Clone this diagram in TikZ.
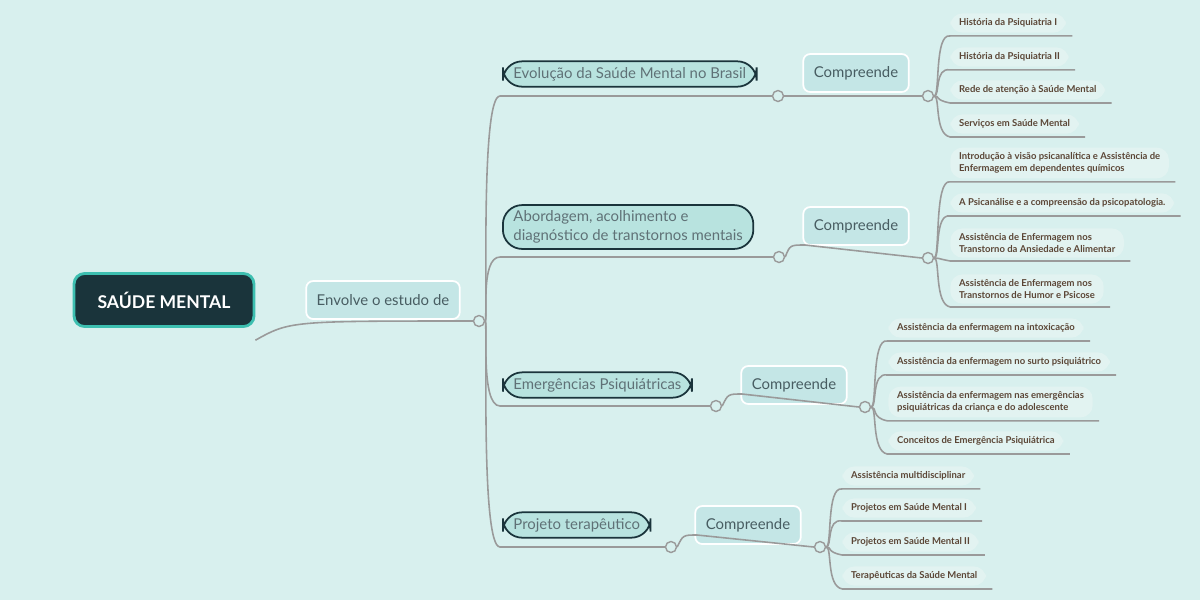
\documentclass[tikz,border=0pt]{standalone}
\usepackage{fontspec}
\setmainfont{Lato}
\usetikzlibrary{positioning,calc}
\definecolor{bgc}{HTML}{D8F0EE}
\definecolor{rootc}{HTML}{1A343B}
\definecolor{rimc}{HTML}{3DBFB0}
\definecolor{topicc}{HTML}{B8E3DF}
\definecolor{labc}{HTML}{C4E6E6}
\definecolor{leafc}{HTML}{E2F3F1}
\definecolor{leaftxt}{HTML}{5B4636}
\definecolor{linec}{HTML}{9A9A9A}
\begin{document}
\begin{tikzpicture}[x=0.02cm,y=-0.02cm]
\tikzset{rootbox/.style={draw=rimc, line width=1.6pt, fill=rootc, text=white, rounded corners=6pt, font=\bfseries\fontsize{10}{12}\selectfont, minimum width=3.6cm, minimum height=1.06cm},
labbox/.style={draw=white, line width=1pt, fill=labc, text=rootc!80, rounded corners=4pt, font=\fontsize{8.5}{10}\selectfont, minimum height=0.76cm, inner xsep=6pt},
topicbox/.style={draw=rootc, line width=1pt, fill=topicc, text=rootc!70, rounded corners=11pt, font=\fontsize{8.5}{10.5}\selectfont, align=left, inner xsep=6pt, anchor=west},
leafbox/.style={fill=leafc, text=leaftxt, rounded corners=7pt, font=\bfseries\fontsize{5.4}{6.6}\selectfont, align=left, inner xsep=5pt, inner ysep=3pt, anchor=west},
hubdot/.style={circle, draw=linec, fill=bgc, line width=0.8pt, inner sep=0pt, minimum size=0.22cm},
wire/.style={draw=linec, line width=0.9pt}}
\fill[bgc] (0,0) rectangle (1200,600);
% root and first label
\node[rootbox] (root) at (164,300) {SAÚDE MENTAL};
\node[labbox] (envolve) at (383,300) {Envolve o estudo de};
\node[hubdot] (hub) at (479,321) {};
\draw[wire] (root.south east) ++(0,-7pt) coordinate (rootout);
\draw[wire] (rootout) .. controls (290,321) .. (hub.west);
% topics
\node[topicbox] (evol) at (502,74) {Evolução da Saúde Mental no Brasil};
\node[topicbox] (abord) at (502,227) {Abordagem, acolhimento e\\diagnóstico de transtornos mentais};
\node[topicbox] (emerg) at (502,385) {Emergências Psiquiátricas};
\node[topicbox] (proj) at (502,525) {Projeto terapêutico};
\node[hubdot] (d1) at (778,96) {};
\node[hubdot] (d2) at (779,257) {};
\node[hubdot] (d3) at (716,406) {};
\node[hubdot] (d4) at (671,547) {};
\foreach \t/\d/\yy in {evol/d1/96, abord/d2/257, emerg/d3/406, proj/d4/547}{
  \draw[wire] (hub.east) .. controls (488,321) and (480,\yy) .. (500,\yy) -- (\d.west);
}
% compreende labels
\node[labbox] (c1) at (856,73) {Compreende};
\node[labbox] (c2) at (856,226) {Compreende};
\node[labbox] (c3) at (794,385) {Compreende};
\node[labbox] (c4) at (748,525) {Compreende};
\node[hubdot] (e1) at (928,96) {};
\node[hubdot] (e2) at (928,258) {};
\node[hubdot] (e3) at (865,407) {};
\node[hubdot] (e4) at (820,547) {};
\draw[wire] (d1.east) .. controls (790,96) .. (805,96) -- (e1.west);
\draw[wire] (d2.east) .. controls (790,245) .. (805,245) -- (e2.west);
\draw[wire] (d3.east) .. controls (728,394) .. (742,394) -- (e3.west);
\draw[wire] (d4.east) .. controls (683,535) .. (697,535) -- (e4.west);
% leaves
\node[leafbox] (l11) at (950,23) {História da Psiquiatria I};
\node[leafbox] (l12) at (950,57) {História da Psiquiatria II};
\node[leafbox] (l13) at (950,90) {Rede de atenção à Saúde Mental};
\node[leafbox] (l14) at (950,124) {Serviços em Saúde Mental};
\node[leafbox] (l21) at (950,163) {Introdução à visão psicanalítica e Assistência de\\Enfermagem em dependentes químicos};
\node[leafbox] (l22) at (950,203) {A Psicanálise e a compreensão da psicopatologia.};
\node[leafbox] (l23) at (950,243) {Assistência de Enfermagem nos\\Transtorno da Ansiedade e Alimentar};
\node[leafbox] (l24) at (950,289) {Assistência de Enfermagem nos\\Transtornos de Humor e Psicose};
\node[leafbox] (l31) at (888,328) {Assistência da enfermagem na intoxicação};
\node[leafbox] (l32) at (888,362) {Assistência da enfermagem no surto psiquiátrico};
\node[leafbox] (l33) at (888,402) {Assistência da enfermagem nas emergências\\psiquiátricas da criança e do adolescente};
\node[leafbox] (l34) at (888,441) {Conceitos de Emergência Psiquiátrica};
\node[leafbox] (l41) at (842,476) {Assistência multidisciplinar};
\node[leafbox] (l42) at (842,508) {Projetos em Saúde Mental I};
\node[leafbox] (l43) at (842,542) {Projetos em Saúde Mental II};
\node[leafbox] (l44) at (842,576) {Terapêuticas da Saúde Mental};
\foreach \e/\ls in {e1/{l11,l12,l13,l14}, e2/{l21,l22,l23,l24}, e3/{l31,l32,l33,l34}, e4/{l41,l42,l43,l44}}{
  \foreach \l in \ls{
    \draw[wire] (\e.east) .. controls ($(\e.east)+(6,0)$) and ($(\e.east |- \l.south)+(0,0)$) .. ($(\e.east |- \l.south)+(16,3)$) -- ($(\l.south east)+(6,3)$);
  }
}
\end{tikzpicture}
\end{document}
